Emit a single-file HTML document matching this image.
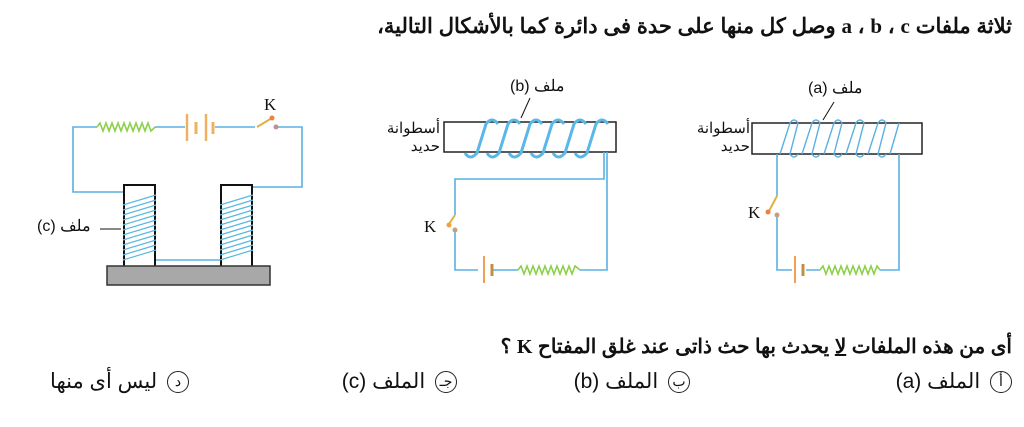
<!DOCTYPE html>
<html><head><meta charset="utf-8"><style>
html,body{margin:0;padding:0;background:#fff;}
body{width:1024px;height:427px;overflow:hidden;position:relative;font-family:"Liberation Sans","Noto Sans CJK SC",sans-serif;}
.t{position:absolute;direction:rtl;font-weight:bold;color:#111;white-space:nowrap;}
.o{position:absolute;direction:rtl;color:#111;white-space:nowrap;font-size:21px;}
.c{display:inline-block;width:20px;height:20px;border:1.3px solid #222;border-radius:50%;text-align:center;line-height:19px;font-size:14px;margin-left:4px;vertical-align:middle;}
</style></head><body>
<div class="t" style="right:12px;top:14px;font-size:21px;">ثلاثة ملفات <span style="font-family:'Liberation Serif',serif">a</span> ، <span style="font-family:'Liberation Serif',serif">b</span> ، <span style="font-family:'Liberation Serif',serif">c</span> وصل كل منها على حدة فى دائرة كما بالأشكال التالية،</div>
<svg width="1024" height="427" style="position:absolute;left:0;top:0" xmlns="http://www.w3.org/2000/svg">
<g fill="none" stroke-width="1.6">
<path d="M97 127 H73 V192 H124 M155 127 H185 M215 127 H255 M277 127 H302 V187 H251 M155 260 H221" stroke="#5ab0e0"/>
<polyline points="97,127 100,123 103,131 106,123 109,131 112,123 115,131 118,123 121,131 124,123 127,131 130,123 133,131 136,123 139,131 142,123 145,131 148,123 151,131 155,127" stroke="#8cd04a"/>
<line x1="187" y1="114" x2="187" y2="141" stroke="#f0b060" stroke-width="2.5"/>
<line x1="196" y1="122" x2="196" y2="134" stroke="#f0b060" stroke-width="3"/>
<line x1="206" y1="114" x2="206" y2="141" stroke="#f0b060" stroke-width="2.5"/>
<line x1="213" y1="122" x2="213" y2="134" stroke="#f0b060" stroke-width="3"/>
<line x1="257" y1="127" x2="272" y2="118" stroke="#e0b040" stroke-width="2"/>
<circle cx="272" cy="118" r="2.5" fill="#f08040" stroke="none"/>
<circle cx="276" cy="127" r="2.5" fill="#c09090" stroke="none"/>
<rect x="124" y="185" width="31" height="82" stroke="#111" stroke-width="2"/>
<rect x="221" y="185" width="31" height="82" stroke="#111" stroke-width="2"/>
<g stroke="#5ab8e0" stroke-width="1.2">
<path d="M123 205 L156 195 M123 210 L156 200 M123 215 L156 205 M123 220 L156 210 M123 225 L156 215 M123 230 L156 220 M123 235 L156 225 M123 240 L156 230 M123 245 L156 235 M123 250 L156 240 M123 255 L156 245 M123 260 L156 250"/>
<path d="M220 205 L253 195 M220 210 L253 200 M220 215 L253 205 M220 220 L253 210 M220 225 L253 215 M220 230 L253 220 M220 235 L253 225 M220 240 L253 230 M220 245 L253 235 M220 250 L253 240 M220 255 L253 245 M220 260 L253 250"/>
</g>
<rect x="107" y="266" width="163" height="19" fill="#a8a8a8" stroke="#333" stroke-width="1.5"/>
<line x1="100" y1="229" x2="121" y2="229" stroke="#111" stroke-width="1"/>
<rect x="444" y="122" width="172" height="30" stroke="#222" stroke-width="1.5"/>
<g stroke="#5ab8e8" stroke-width="3">
<path d="M465 153 q5 8 12 0 L486 124 q6 -8 12 0 M487 153 q5 8 12 0 L508 124 q6 -8 12 0 M509 153 q5 8 12 0 L530 124 q6 -8 12 0 M531 153 q5 8 12 0 L552 124 q6 -8 12 0 M553 153 q5 8 12 0 L574 124 q6 -8 12 0 M575 153 q5 8 12 0 L596 124 q6 -8 12 0"/>
</g>
<path d="M604 152 V179 H455 V215 M455 230 V270 H478 M492 270 H518 M580 270 H607 V152" stroke="#5ab0e0"/>
<polyline points="518,270 521,266 524,274 527,266 530,274 533,266 536,274 539,266 542,274 545,266 548,274 551,266 554,274 557,266 560,274 563,266 566,274 569,266 572,274 575,266 580,270" stroke="#8cd04a"/>
<line x1="484" y1="256" x2="484" y2="283" stroke="#f0a050" stroke-width="2"/>
<line x1="492" y1="264" x2="492" y2="276" stroke="#c09040" stroke-width="3"/>
<line x1="455" y1="215" x2="449" y2="224" stroke="#e0b040" stroke-width="2"/>
<circle cx="449" cy="225" r="2.5" fill="#f0a040" stroke="none"/>
<circle cx="455" cy="230" r="2.5" fill="#c0a080" stroke="none"/>
<line x1="530" y1="98" x2="521" y2="118" stroke="#111" stroke-width="1"/>
<rect x="752" y="123" width="170" height="31" stroke="#222" stroke-width="1.5"/>
<g stroke="#5ab0e0" stroke-width="1.4">
<path d="M780 154 L790 123 q4 -6 8 0 M802 154 L812 123 q4 -6 8 0 M824 154 L834 123 q4 -6 8 0 M846 154 L856 123 q4 -6 8 0 M868 154 L878 123 q4 -6 8 0 M890 154 L899 123"/>
<path d="M798 123 L790 154 q4 6 8 0 M820 123 L812 154 q4 6 8 0 M842 123 L834 154 q4 6 8 0 M864 123 L856 154 q4 6 8 0 M886 123 L878 154 q4 6 8 0"/>
</g>
<path d="M777 154 V196 M777 215 V270 H792 M806 270 H820 M880 270 H899 V154" stroke="#5ab0e0"/>
<polyline points="820,270 823,266 826,274 829,266 832,274 835,266 838,274 841,266 844,274 847,266 850,274 853,266 856,274 859,266 862,274 865,266 868,274 871,266 874,274 877,266 880,270" stroke="#8cd04a"/>
<line x1="795" y1="256" x2="795" y2="283" stroke="#f0a050" stroke-width="2"/>
<line x1="803" y1="264" x2="803" y2="276" stroke="#c09040" stroke-width="3"/>
<line x1="777" y1="196" x2="769" y2="211" stroke="#e0b040" stroke-width="2"/>
<circle cx="768" cy="212" r="2.5" fill="#f08040" stroke="none"/>
<circle cx="777" cy="215" r="2.5" fill="#c0a080" stroke="none"/>
<line x1="834" y1="102" x2="823" y2="120" stroke="#111" stroke-width="1"/>
</g>
<g font-family="Liberation Serif, serif" font-size="17" fill="#111">
<text x="264" y="110">K</text>
<text x="424" y="232">K</text>
<text x="748" y="218">K</text>
</g>
</svg>
<div class="o" style="left:37px;top:216px;font-size:16px;">ملف (c)</div>
<div class="o" style="left:510px;top:76px;font-size:16px;">ملف (b)</div>
<div class="o" style="left:808px;top:78px;font-size:16px;">ملف (a)</div>
<div class="o" style="right:584px;top:120px;font-size:15px;line-height:18px;text-align:right;">أسطوانة<br>حديد</div>
<div class="o" style="right:274px;top:120px;font-size:15px;line-height:18px;text-align:right;">أسطوانة<br>حديد</div>
<div class="t" style="right:12px;top:334px;font-size:20px;">أى من هذه الملفات <u>لا</u> يحدث بها حث ذاتى عند غلق المفتاح <span style="font-family:'Liberation Serif',serif">K</span> ؟</div>
<div class="o" style="right:12px;top:369px;"><span class="c">أ</span> الملف (a)</div>
<div class="o" style="right:334px;top:369px;"><span class="c">ب</span> الملف (b)</div>
<div class="o" style="right:567px;top:369px;"><span class="c">جـ</span> الملف (c)</div>
<div class="o" style="right:835px;top:369px;"><span class="c">د</span> ليس أى منها</div>
</body></html>
